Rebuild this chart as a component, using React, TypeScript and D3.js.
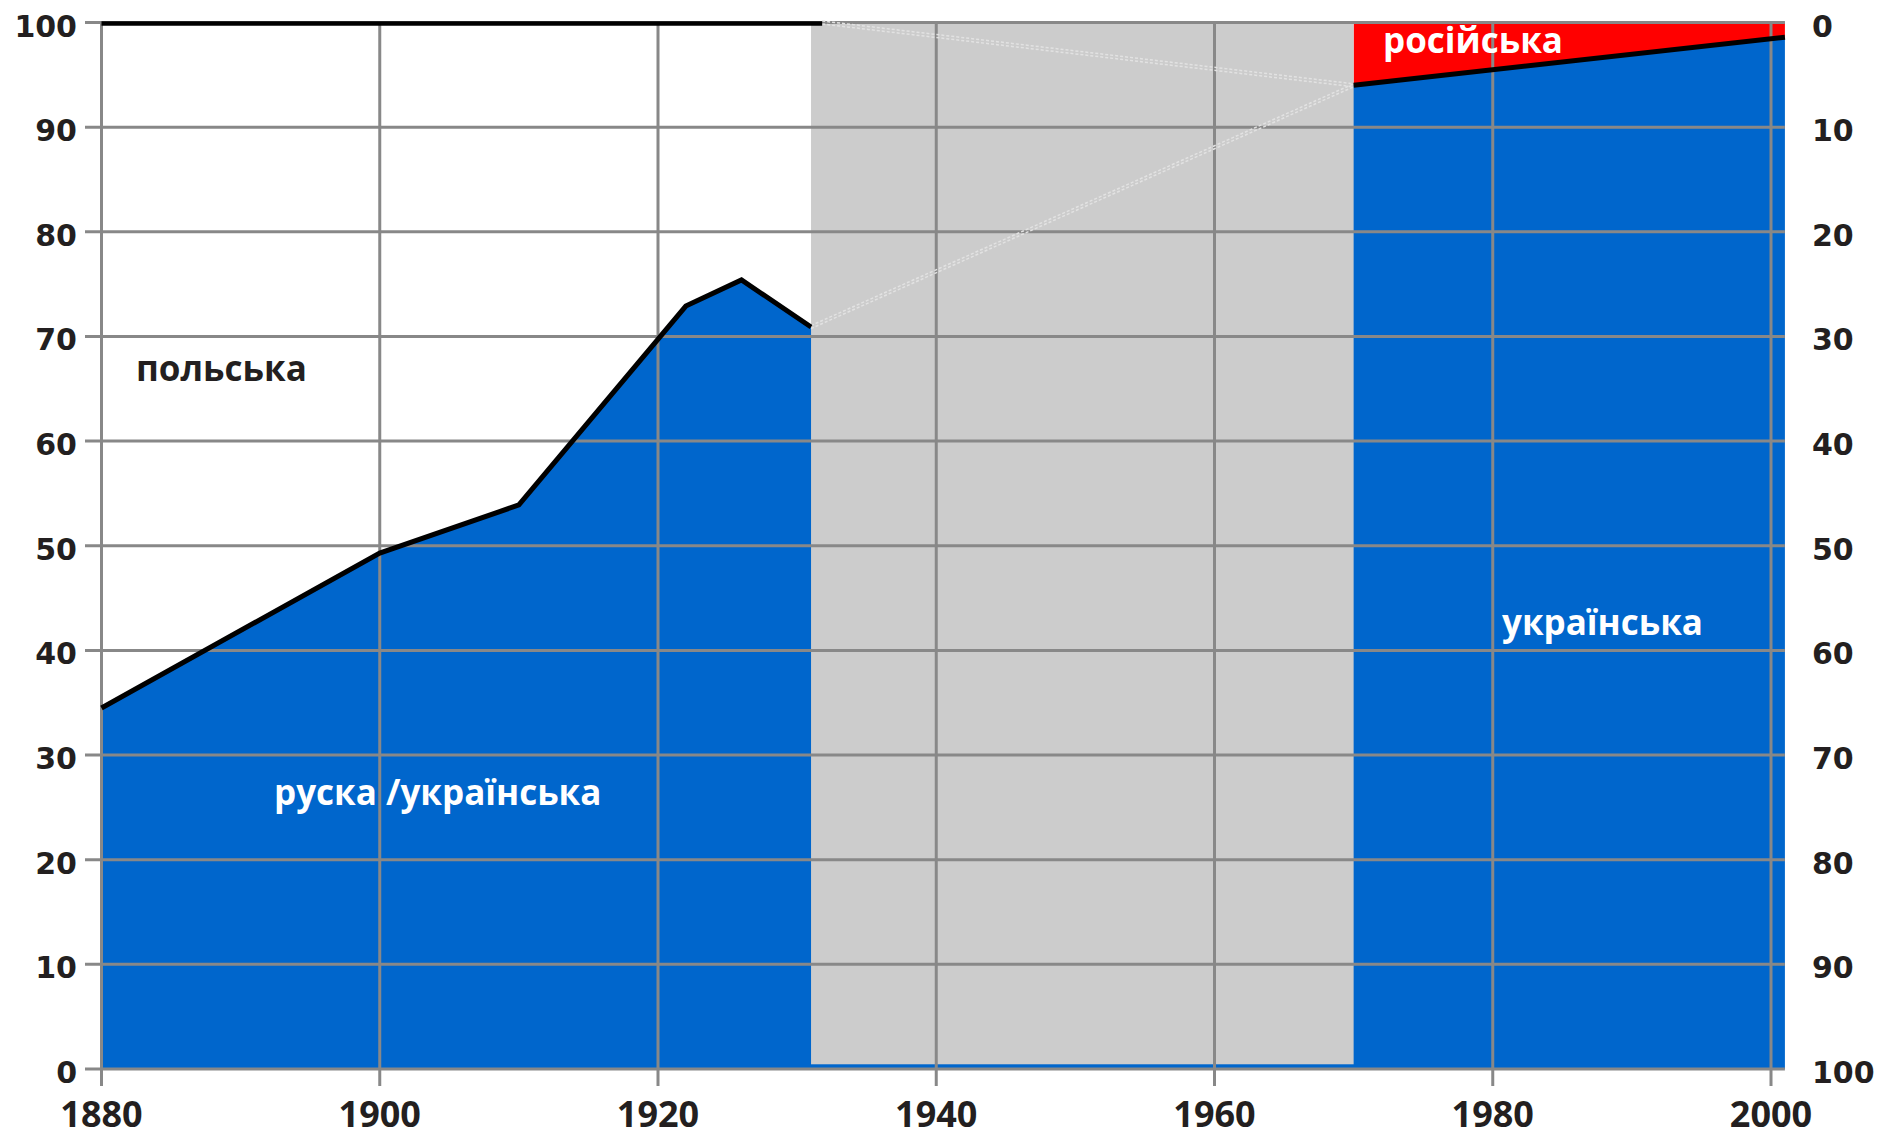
import React from "react";
import * as d3 from "d3";

// Ukrainian (Ruthenian) share in the Polish period, %
const earlyYears = [1880, 1900, 1910, 1922, 1926, 1931];
const earlyUkr = [34.5, 49.3, 53.9, 72.9, 75.4, 70.9];

// Soviet / independent period
const lateYears = [1970, 2001];
const lateUkr = [94.0, 98.6];

// no data years (grey band)
const gapYears = [1931, 1970];

const xTicks = [1880, 1900, 1920, 1940, 1960, 1980, 2000];
const yTicks = [0, 10, 20, 30, 40, 50, 60, 70, 80, 90, 100];

const BLUE = "#0066cc";
const RED = "#ff0000";
const GREY = "#cccccc";
const GRID = "#888888";

const App = () => {
  const width = 1881;
  const height = 1139;

  const x = d3.scaleLinear().domain([1880, 2000]).range([101.5, 1771]);
  const y = d3.scaleLinear().domain([0, 100]).range([1069, 22.5]);
  const yRight = d3.scaleLinear().domain([0, 100]).range([22.5, 1069]);

  const early = earlyYears.map((yr, i) => ({ yr, v: earlyUkr[i] }));
  const late = lateYears.map((yr, i) => ({ yr, v: lateUkr[i] }));
  const all = [...early, ...late];

  const area = d3
    .area<{ yr: number; v: number }>()
    .x((d) => x(d.yr))
    .y0(y(0))
    .y1((d) => y(d.v));

  const redArea = d3
    .area<{ yr: number; v: number }>()
    .x((d) => x(d.yr))
    .y0((d) => y(d.v))
    .y1(y(100));

  const line = d3
    .line<{ yr: number; v: number }>()
    .x((d) => x(d.yr))
    .y((d) => y(d.v));

  const left = 85;
  const right = x(2001);
  const lastEarly = early[early.length - 1];
  const firstLate = late[0];

  // faint connector lines across the grey band (doubled, dotted)
  const connectors = [
    [{ yr: 1931.8, v: 100 }, firstLate],
    [lastEarly, firstLate],
  ];

  const labelFont = "'Open Sans', 'Noto Sans', sans-serif";

  return (
    <svg
      width={width}
      height={height}
      style={{ position: "absolute", left: 0, top: 0, background: "#fff" }}
    >
      {/* areas */}
      <path d={area(all) ?? ""} fill={BLUE} />
      <path d={redArea(late) ?? ""} fill={RED} />
      <rect
        x={x(gapYears[0])}
        y={y(100)}
        width={x(gapYears[1]) - x(gapYears[0])}
        height={y(0.45) - y(100)}
        fill={GREY}
      />

      {/* grid */}
      {yTicks.map((t) => (
        <line key={"h" + t} x1={left} x2={right} y1={y(t)} y2={y(t)} stroke={GRID} strokeWidth={3} />
      ))}
      {xTicks.map((t) => (
        <line key={"v" + t} x1={x(t)} x2={x(t)} y1={y(100)} y2={y(0) + 17} stroke={GRID} strokeWidth={3} />
      ))}

      {/* connectors */}
      {connectors.map((c, i) =>
        [-1.5, 1.5].map((o) => (
          <line
            key={i + "_" + o}
            x1={x(c[0].yr)}
            y1={y(c[0].v) + o}
            x2={x(c[1].yr)}
            y2={y(c[1].v) + o}
            stroke="#e2e2e2"
            strokeWidth={1.5}
            strokeDasharray="3,2"
          />
        ))
      )}

      {/* boundary lines */}
      <line x1={x(1880)} x2={x(1931.8)} y1={y(100) + 1} y2={y(100) + 1} stroke="#000" strokeWidth={4.5} />
      <path d={line(early) ?? ""} fill="none" stroke="#000" strokeWidth={5} strokeLinejoin="miter" />
      <path d={line(late) ?? ""} fill="none" stroke="#000" strokeWidth={5} />

      {/* left axis labels */}
      {yTicks.map((t) => (
        <text
          key={"l" + t}
          x={77}
          y={y(t) + 14}
          textAnchor="end"
          fontFamily="'DejaVu Sans', sans-serif"
          fontWeight="bold"
          fontSize={30}
          fill="#231f20"
        >
          {t}
        </text>
      ))}

      {/* right axis labels (inverted) */}
      {yTicks.map((t) => (
        <text
          key={"r" + t}
          x={1812}
          y={yRight(t) + 14}
          textAnchor="start"
          fontFamily="'DejaVu Sans', sans-serif"
          fontWeight="bold"
          fontSize={30}
          fill="#231f20"
        >
          {t}
        </text>
      ))}

      {/* x axis labels */}
      {xTicks.map((t) => (
        <text
          key={"x" + t}
          x={x(t)}
          y={1127}
          textAnchor="middle"
          fontFamily={labelFont}
          fontWeight="bold"
          fontSize={36}
          fill="#231f20"
        >
          {t}
        </text>
      ))}

      {/* series labels */}
      <text x={136} y={381} fontFamily={labelFont} fontWeight="bold" fontSize={35} fill="#231f20">
        польська
      </text>
      <text x={274} y={805} fontFamily={labelFont} fontWeight="bold" fontSize={35} fill="#fff">
        руска /українська
      </text>
      <text x={1502} y={635} fontFamily={labelFont} fontWeight="bold" fontSize={35} fill="#fff">
        українська
      </text>
      <text x={1383} y={53} fontFamily={labelFont} fontWeight="bold" fontSize={35} fill="#fff">
        російська
      </text>
    </svg>
  );
};

export default App;
